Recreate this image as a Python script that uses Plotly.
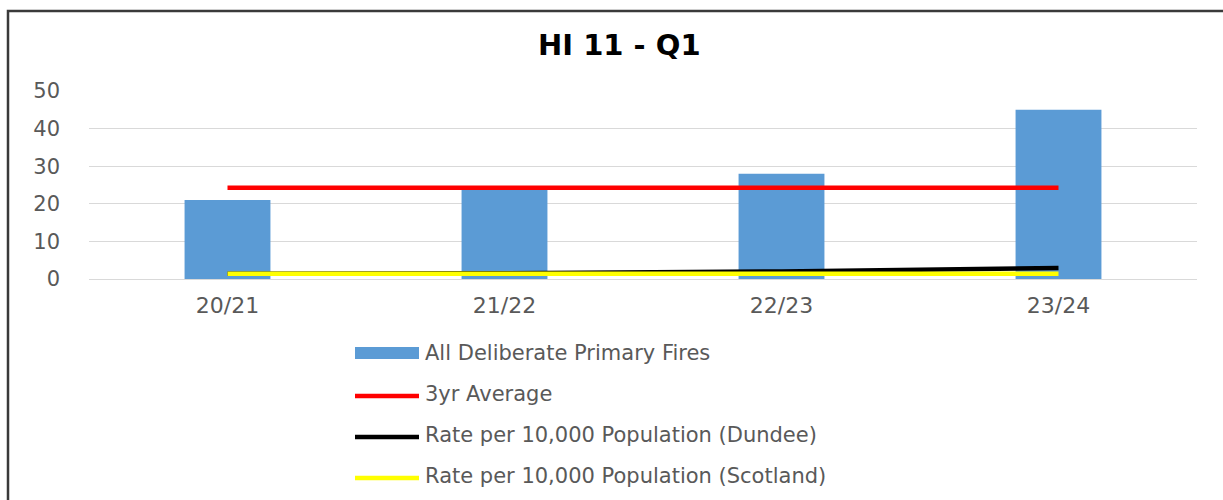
import plotly.graph_objects as go

categories = ["20/21", "21/22", "22/23", "23/24"]
series_names = [
    "All Deliberate Primary Fires",
    "3yr Average",
    "Rate per 10,000 Population (Dundee)",
    "Rate per 10,000 Population (Scotland)",
]
all_fires = [21, 24, 28, 45]
avg_3yr = [24.3, 24.3, 24.3, 24.3]
rate_dundee = [1.4, 1.5, 2.0, 2.9]
rate_scotland = [1.4, 1.4, 1.4, 1.4]
y_ticks = [0, 10, 20, 30, 40, 50]

bar_color = "#5B9BD5"
line_colors = ["#FF0000", "#000000", "#FFFF00"]
text_gray = "#595959"

W, H = 1223, 500
pl, pr, pt, pb = 89, 26, 91, 221
pw, ph = W - pl - pr, H - pt - pb


def px_x(x):
    return (x - pl) / pw


def px_y(y):
    return (H - pb - y) / ph


fig = go.Figure()
fig.add_trace(go.Bar(x=categories, y=all_fires, name=series_names[0],
                     marker=dict(color=bar_color, line=dict(width=0)), showlegend=False))
for name, vals, col in zip(series_names[1:], [avg_3yr, rate_dundee, rate_scotland], line_colors):
    fig.add_trace(go.Scatter(x=categories, y=vals, name=name, mode="lines",
                             line=dict(color=col, width=4.5), showlegend=False))

# custom legend (wide symbols like the original)
shapes = []
annotations = []
leg_rows = [353, 394, 435, 476]
sym_x0, sym_x1, txt_x = 355, 419, 423
shapes.append(dict(type="rect", xref="paper", yref="paper",
                   x0=px_x(sym_x0), x1=px_x(sym_x1), y0=px_y(leg_rows[0] + 6), y1=px_y(leg_rows[0] - 6),
                   fillcolor=bar_color, line=dict(width=0)))
for row, col in zip(leg_rows[1:], line_colors):
    shapes.append(dict(type="line", xref="paper", yref="paper",
                       x0=px_x(sym_x0), x1=px_x(sym_x1), y0=px_y(row + 2), y1=px_y(row + 2),
                       line=dict(color=col, width=4.5)))
for row, name in zip(leg_rows, series_names):
    annotations.append(dict(text=name, xref="paper", yref="paper", x=px_x(txt_x), y=px_y(row),
                            xanchor="left", yanchor="middle", showarrow=False,
                            font=dict(family="DejaVu Sans", size=21, color=text_gray)))

# chart border
shapes.append(dict(type="rect", xref="paper", yref="paper",
                   x0=px_x(8), x1=px_x(1240), y0=px_y(520), y1=px_y(11),
                   line=dict(color="#3A3A3A", width=2.5), fillcolor="rgba(0,0,0,0)", layer="below"))

# title
annotations.append(dict(text="<b>HI 11 - Q1</b>", xref="paper", yref="paper",
                        x=px_x(619), y=px_y(45), xanchor="center", yanchor="middle", showarrow=False,
                        font=dict(family="DejaVu Sans", size=29, color="#000000")))

fig.update_layout(
    width=W, height=H,
    margin=dict(l=pl, r=pr, t=pt, b=pb),
    paper_bgcolor="white", plot_bgcolor="white",
    bargap=0.69,
    showlegend=False,
    font=dict(family="DejaVu Sans", color=text_gray),
    xaxis=dict(showgrid=False, showline=False, ticks="", ticklabelstandoff=11,
               tickfont=dict(family="DejaVu Sans", size=22, color=text_gray)),
    yaxis=dict(range=[0, 50], tickvals=y_ticks, showgrid=True, gridcolor="#D9D9D9", gridwidth=1,
               zeroline=True, zerolinecolor="#D9D9D9", zerolinewidth=1, showline=False, ticks="",
               ticklabelstandoff=28, tickfont=dict(family="DejaVu Sans", size=21, color=text_gray)),
    shapes=shapes,
    annotations=annotations,
)

fig.write_html("out.html", config={"displayModeBar": False},
               post_script="document.body.style.margin='0';")
